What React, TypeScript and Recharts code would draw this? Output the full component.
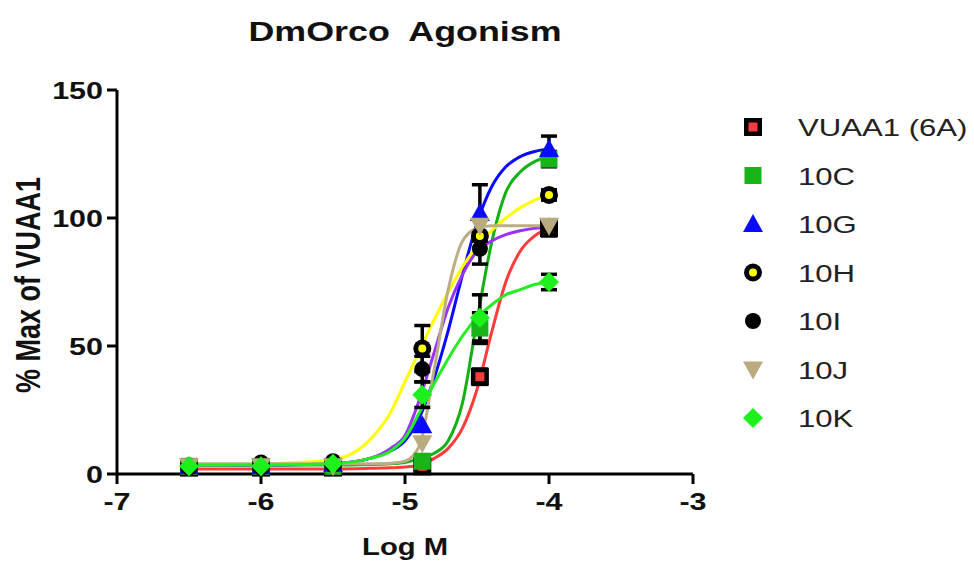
import { ComposedChart, Line, Scatter, XAxis, YAxis, ErrorBar } from 'recharts';

// fitted curve values, at these log M positions
const curveX = [-6.5, -6, -5.75, -5.5, -5.25, -5.1, -5, -4.9, -4.8, -4.7, -4.6, -4.5, -4.4, -4.3, -4.2, -4.1, -4];
const fitVUAA1 = [2, 2, 2, 2, 2.2, 2.4, 2.7, 3.5, 6, 10, 18, 33, 55, 75, 87, 93, 96];
const fit10C = [3.5, 3.5, 3.5, 3.5, 3.7, 4, 4.5, 6, 8, 13, 28, 60, 90, 110, 118, 122, 124];
const fit10G = [3.5, 3.5, 3.7, 4, 6, 9, 13, 22, 37, 56, 78, 98, 112, 120, 124, 126, 127];
const fit10H = [3.5, 3.8, 4.5, 5.5, 13, 24, 36, 48, 60, 71, 81, 89, 95, 100, 104, 107, 109];
const fit10I = [3.5, 3.5, 3.6, 4, 6, 10, 15, 29, 47, 65, 78, 87, 91, 93.5, 95, 96, 96.5];
const fit10J = [4, 4, 4, 4, 4, 4.2, 5, 11, 40, 72, 91, 96, 97, 97, 97, 97, 97];
const fit10K = [3.5, 3.5, 3.6, 4, 6, 9, 14, 24, 35, 45, 54, 61, 66, 70, 72, 74, 75];

// measured points (mean) and error (SEM)
const doseX = [-6.5, -6, -5.5, -4.88, -4.48, -4];
const ptsVUAA1 = [2.5, 2.5, 2.5, 3, 38, 96];
const errVUAA1 = [0, 0, 0, 0, 3, 3];
const pts10C = [3, 3, 3, 5, 57, 123];
const err10C = [0, 0, 0, 0, 6, 3];
const pts10G = [3, 3, 4, 19, 102, 127];
const err10G = [0, 0, 0, 0, 11, 5];
const pts10H = [3, 3, 4, 49, 93, 109];
const err10H = [0, 0, 0, 9, 0, 2];
const pts10I = [3, 4.5, 5, 41, 88, 97];
const err10I = [0, 0, 0, 5, 6, 0];
const pts10J = [3, 3, 3, 12, 97, 97];
const err10J = [0, 0, 0, 0, 0, 0];
const pts10K = [3, 3, 4, 31, 61, 75];
const err10K = [0, 0, 0, 5, 9, 3];

const xTicks = [-7, -6, -5, -4, -3];
const yTicks = [0, 50, 100, 150];

const FONT = '"Liberation Sans", Arial, Helvetica, sans-serif';
const SX = 1.27; // the original picture is stretched sideways

const curveRows = curveX.map((x, i) => ({
  x,
  vuaa1: fitVUAA1[i],
  c10: fit10C[i],
  g10: fit10G[i],
  h10: fit10H[i],
  i10: fit10I[i],
  j10: fit10J[i],
  k10: fit10K[i]
}));

const toPoints = (ys: number[], errs: number[]) =>
  doseX.map((x, i) => ({ x, y: ys[i], err: errs[i] }));

// marker shapes
const redSquare = (cx: number, cy: number) => (
  <g>
    <rect x={cx - 9} y={cy - 9} width={18} height={18} fill="#000" />
    <rect x={cx - 4.5} y={cy - 4.5} width={9} height={9} fill="#ff3b3b" />
  </g>
);
const greenSquare = (cx: number, cy: number) => (
  <rect x={cx - 8.5} y={cy - 8.5} width={17} height={17} fill="#18b418" />
);
const blueTriangle = (cx: number, cy: number) => (
  <polygon points={`${cx},${cy - 10} ${cx + 10},${cy + 8} ${cx - 10},${cy + 8}`} fill="#0a0aff" />
);
const yellowCircle = (cx: number, cy: number) => (
  <g>
    <circle cx={cx} cy={cy} r={9} fill="#000" />
    <circle cx={cx} cy={cy} r={4} fill="#ffff00" />
  </g>
);
const blackCircle = (cx: number, cy: number) => <circle cx={cx} cy={cy} r={8} fill="#000" />;
const tanTriangle = (cx: number, cy: number) => (
  <polygon points={`${cx - 10},${cy - 8} ${cx + 10},${cy - 8} ${cx},${cy + 10}`} fill="#b9aa80" />
);
const greenDiamond = (cx: number, cy: number) => (
  <polygon points={`${cx},${cy - 10} ${cx + 10},${cy} ${cx},${cy + 10} ${cx - 10},${cy}`} fill="#1ef01e" />
);

const series = [
  { key: 'vuaa1', name: 'VUAA1 (6A)', color: '#ff3b3b', pts: ptsVUAA1, errs: errVUAA1, shape: redSquare },
  { key: 'c10', name: '10C', color: '#14b014', pts: pts10C, errs: err10C, shape: greenSquare },
  { key: 'g10', name: '10G', color: '#0a0aff', pts: pts10G, errs: err10G, shape: blueTriangle },
  { key: 'h10', name: '10H', color: '#ffff00', pts: pts10H, errs: err10H, shape: yellowCircle },
  { key: 'i10', name: '10I', color: '#9b30ff', pts: pts10I, errs: err10I, shape: blackCircle },
  { key: 'j10', name: '10J', color: '#bcae84', pts: pts10J, errs: err10J, shape: tanTriangle },
  { key: 'k10', name: '10K', color: '#22ee22', pts: pts10K, errs: err10K, shape: greenDiamond }
];

const XTick = ({ x, y, payload }: any) => (
  <text
    transform={`translate(${x},${y}) scale(${SX},1)`}
    textAnchor="middle"
    dy="0.71em"
    fontSize={24}
    fontWeight="bold"
    fontFamily={FONT}
    fill="#111"
  >
    {payload.value}
  </text>
);

const YTick = ({ x, y, payload }: any) => (
  <text
    transform={`translate(${x},${y}) scale(${SX},1)`}
    textAnchor="end"
    dy="0.355em"
    fontSize={24}
    fontWeight="bold"
    fontFamily={FONT}
    fill="#111"
  >
    {payload.value}
  </text>
);

export default function App() {
  return (
    <div style={{ position: 'absolute', left: 0, top: 0, width: 974, height: 566, background: '#fff', fontFamily: FONT }}>
      <ComposedChart
        width={974}
        height={566}
        data={curveRows}
        margin={{ top: 90, right: 281, bottom: 0, left: 0 }}
      >
        <XAxis
          type="number"
          dataKey="x"
          domain={[-7, -3]}
          ticks={xTicks}
          height={92}
          axisLine={{ stroke: '#000', strokeWidth: 3 }}
          tickLine={{ stroke: '#000', strokeWidth: 3 }}
          tickSize={10}
          tickMargin={9}
          tick={<XTick />}
        />
        <YAxis
          type="number"
          domain={[0, 150]}
          ticks={yTicks}
          width={117}
          axisLine={{ stroke: '#000', strokeWidth: 3 }}
          tickLine={{ stroke: '#000', strokeWidth: 3 }}
          tickSize={10}
          tickMargin={4}
          tick={<YTick />}
        />
        {series.map(s => (
          <Line
            key={s.key}
            type="monotone"
            dataKey={s.key}
            stroke={s.color}
            strokeWidth={3}
            dot={false}
            activeDot={false}
            isAnimationActive={false}
          />
        ))}
        {series.map(s => (
          <Scatter
            key={s.key + '-pts'}
            data={toPoints(s.pts, s.errs)}
            dataKey="y"
            isAnimationActive={false}
            shape={(p: any) => s.shape(p.cx, p.cy)}
          >
            <ErrorBar dataKey="err" direction="y" width={8} stroke="#000" strokeWidth={3.5} />
          </Scatter>
        ))}
      </ComposedChart>

      {/* title, axis titles and legend */}
      <svg
        width={974}
        height={566}
        style={{ position: 'absolute', left: 0, top: 0, pointerEvents: 'none' }}
        fontFamily={FONT}
      >
        <text
          transform={`translate(405,41) scale(1.28,1)`}
          textAnchor="middle"
          fontSize={28}
          fontWeight="bold"
          fill="#111"
        >
          {'DmOrco\u00A0 Agonism'}
        </text>
        <text
          transform={`translate(405,555) scale(${SX},1)`}
          textAnchor="middle"
          fontSize={23}
          fontWeight="bold"
          fill="#111"
        >
          Log M
        </text>
        <text
          transform={`translate(28,285) scale(${SX},1) rotate(-90)`}
          textAnchor="middle"
          dominantBaseline="central"
          fontSize={27}
          fontWeight="bold"
          fill="#111"
        >
          % Max of VUAA1
        </text>
        {series.map((s, i) => {
          const cy = 127 + i * 48.5;
          return (
            <g key={s.key + '-leg'}>
              {s.shape(753, cy)}
              <text
                transform={`translate(798,${cy + 9}) scale(${SX},1)`}
                fontSize={24.5}
                fill="#222"
              >
                {s.name}
              </text>
            </g>
          );
        })}
      </svg>
    </div>
  );
}
